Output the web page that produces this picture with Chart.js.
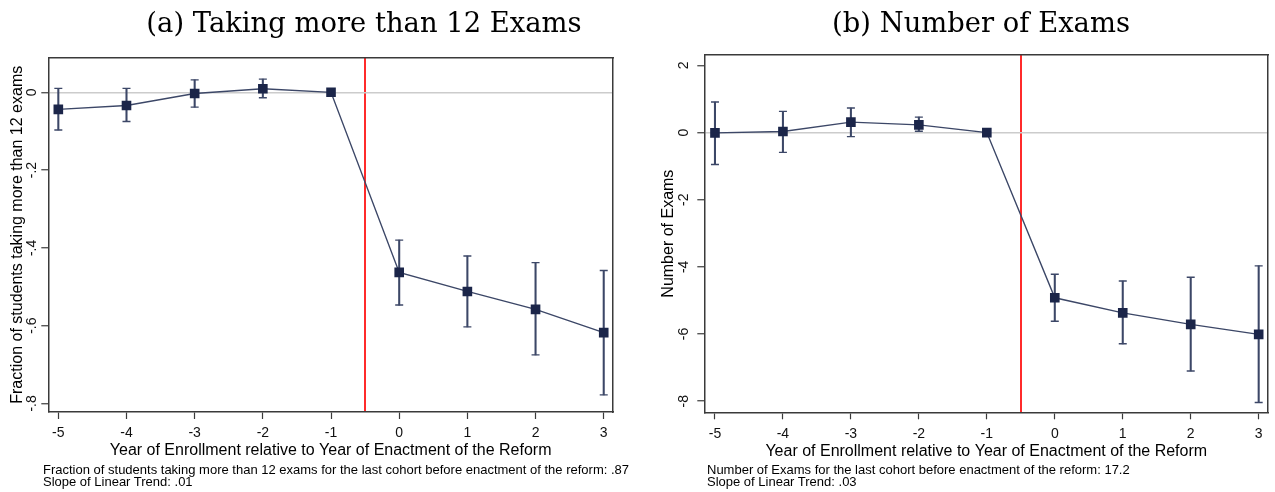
<!DOCTYPE html>
<html>
<head>
<meta charset="utf-8">
<script src="https://cdn.jsdelivr.net/npm/chart.js@4.4.1/dist/chart.umd.min.js"></script>
<style>
	body { margin: 0; background: #fff; width: 1275px; height: 492px; position: relative; overflow: hidden; font-family: "Liberation Sans", Arial, sans-serif; color: #000; }
	canvas { position: absolute; top: 0; }
	#chartA { left: 0; }
	#chartB { left: 640px; }
	.title { position: absolute; top: 9px; font-family: "DejaVu Serif", serif; font-size: 27.4px; line-height: 27px; white-space: nowrap; transform: translateX(-50%); }
	.note { position: absolute; top: 463.5px; font-size: 13px; line-height: 12px; white-space: nowrap; }
</style>
</head>
<body>
<canvas id="chartA" width="640" height="492"></canvas>
<canvas id="chartB" width="635" height="492"></canvas>
<div class="title" style="left:364px">(a) Taking more than 12 Exams</div>
<div class="title" style="left:981px">(b) Number of Exams</div>
<div class="note" style="left:43px">Fraction of students taking more than 12 exams for the last cohort before enactment of the reform: .87<br>Slope of Linear Trend: .01</div>
<div class="note" style="left:707px">Number of Exams for the last cohort before enactment of the reform: 17.2<br>Slope of Linear Trend: .03</div>
<script>
const years = [-5, -4, -3, -2, -1, 0, 1, 2, 3]
const reformYear = -0.5 // red line between the last old cohort and the first new one

// (a) Fraction taking more than 12 exams (point estimate and 95% CI).
const fractionCoef = [-0.044, -0.034, -0.003, 0.009, 0, -0.463, -0.512, -0.558, -0.618]
const fractionLow = [-0.097, -0.075, -0.038, -0.014, null, -0.547, -0.603, -0.675, -0.778]
const fractionHigh = [0.010, 0.010, 0.032, 0.034, null, -0.380, -0.421, -0.438, -0.458]
const fractionTicks = [0, -0.2, -0.4, -0.6, -0.8]

// (b) Number of exams.
const examsCoef = [-0.01, 0.03, 0.31, 0.23, 0, -4.92, -5.37, -5.71, -6.01]
const examsLow = [-0.95, -0.59, -0.12, 0.04, null, -5.62, -6.29, -7.10, -8.04]
const examsHigh = [0.91, 0.63, 0.73, 0.46, null, -4.22, -4.42, -4.31, -3.97]
const examsTicks = [2, 0, -2, -4, -6, -8]

const xTitle = 'Year of Enrollment relative to Year of Enactment of the Reform'

const markerColor = '#1b2549'
const lineColor = '#3c4767'
const frameColor = '#3a3a3a'

Chart.defaults.font.family = '"Liberation Sans", Arial, sans-serif'
Chart.defaults.color = '#000'

// Stata style labels: -.2 instead of -0.2
const stataLabel = value => {
	const s = String(Math.round(value * 10) / 10)
	return s.replace(/^(-?)0\./, '$1.')
}

const frameAxis = position => ({
	type: 'linear',
	position,
	display: true,
	ticks: { display: false },
	grid: { display: false, drawTicks: false },
	border: { display: true, color: frameColor, width: 1.5 },
	afterFit: (scale) => {
		if (scale.isHorizontal()) { scale.height = 0 } else { scale.width = 0 }
	},
})

const makePanel = (id, panel) => {
	const bars = []
	const caps = []
	years.forEach((x, i) => {
		if (panel.low[i] === null) { return }
		bars.push({ x, y: [panel.low[i], panel.high[i]] })
		caps.push({ x, y: panel.low[i] }, { x, y: panel.high[i] })
	})

	return new Chart(document.getElementById(id), {
		type: 'bar',
		data: {
			datasets: [
				{
					type: 'line',
					data: years.map((x, i) => ({ x, y: panel.coef[i] })),
					borderColor: lineColor,
					borderWidth: 1.4,
					pointStyle: 'rect',
					pointRadius: 6.8,
					pointBackgroundColor: markerColor,
					pointBorderWidth: 0,
					order: 1,
				},
				{
					type: 'scatter',
					data: caps,
					pointStyle: 'line',
					pointRadius: 4,
					pointBorderWidth: 1.4,
					pointBorderColor: lineColor,
					order: 2,
				},
				{
					type: 'bar',
					data: bars,
					backgroundColor: lineColor,
					barThickness: 1.4,
					order: 3,
				},
			],
		},
		options: {
			responsive: false,
			animation: false,
			devicePixelRatio: 1,
			layout: { padding: panel.padding },
			plugins: { legend: { display: false }, tooltip: { enabled: false } },
			scales: {
				x: {
					type: 'linear',
					min: panel.xMin,
					max: panel.xMax,
					offset: false,
					afterBuildTicks: (scale) => {
						scale.ticks = [...years, reformYear].sort((a, b) => a - b).map(value => ({ value }))
					},
					afterFit: (scale) => { scale.height = panel.xHeight },
					ticks: {
						autoSkip: false,
						maxRotation: 0,
						padding: 6,
						font: { size: 14 },
						color: '#111',
						callback: value => (value === reformYear ? '' : String(value)),
					},
					grid: {
						offset: false,
						drawOnChartArea: true,
						color: ctx => (ctx.tick && ctx.tick.value === reformYear ? '#ff2b2b' : 'rgba(0,0,0,0)'),
						lineWidth: ctx => (ctx.tick && ctx.tick.value === reformYear ? 2 : 1),
						tickColor: ctx => (ctx.tick && ctx.tick.value === reformYear ? 'rgba(0,0,0,0)' : frameColor),
						tickLength: 7,
						tickWidth: 1.2,
					},
					border: { display: true, color: frameColor, width: 1.5 },
					title: { display: true, text: xTitle, font: { size: 16 }, padding: { top: 0, bottom: panel.xTitlePad } },
				},
				y: {
					type: 'linear',
					min: panel.yMin,
					max: panel.yMax,
					afterBuildTicks: (scale) => {
						scale.ticks = [...panel.yTicks].sort((a, b) => a - b).map(value => ({ value }))
					},
					afterFit: (scale) => { scale.width = panel.yWidth },
					ticks: {
						autoSkip: false,
						minRotation: 90,
						maxRotation: 90,
						crossAlign: 'center',
						padding: panel.yTickPad,
						font: { size: 14 },
						color: '#111',
						callback: stataLabel,
					},
					grid: {
						drawOnChartArea: true,
						color: ctx => (ctx.tick && ctx.tick.value === 0 ? '#cccccc' : 'rgba(0,0,0,0)'),
						lineWidth: 1.5,
						tickColor: frameColor,
						tickLength: 7,
						tickWidth: 1.2,
					},
					border: { display: true, color: frameColor, width: 1.5 },
					title: { display: true, text: panel.yTitle, font: { size: 16 }, padding: { top: panel.yTitlePad, bottom: 0 } },
				},
				xTop: frameAxis('top'),
				yRight: frameAxis('right'),
			},
		},
	})
}

makePanel('chartA', {
	coef: fractionCoef,
	low: fractionLow,
	high: fractionHigh,
	yTicks: fractionTicks,
	yTitle: 'Fraction of students taking more than 12 exams',
	xMin: -5.147,
	xMax: 3.136,
	yMin: -0.822,
	yMax: 0.0895,
	padding: { top: 57.5, right: 27, bottom: 30, left: 0 },
	xHeight: 50,
	xTitlePad: 1.6,
	yWidth: 48.3,
	yTickPad: 0.5,
	yTitlePad: 8,
})

makePanel('chartB', {
	coef: examsCoef,
	low: examsLow,
	high: examsHigh,
	yTicks: examsTicks,
	yTitle: 'Number of Exams',
	xMin: -5.157,
	xMax: 3.14,
	yMin: -8.33,
	yMax: 2.31,
	padding: { top: 55, right: 5, bottom: 29.7, left: 0 },
	xHeight: 50,
	xTitlePad: 1.6,
	yWidth: 64.3,
	yTickPad: 6.5,
	yTitlePad: 18.5,
})
</script>
</body>
</html>
